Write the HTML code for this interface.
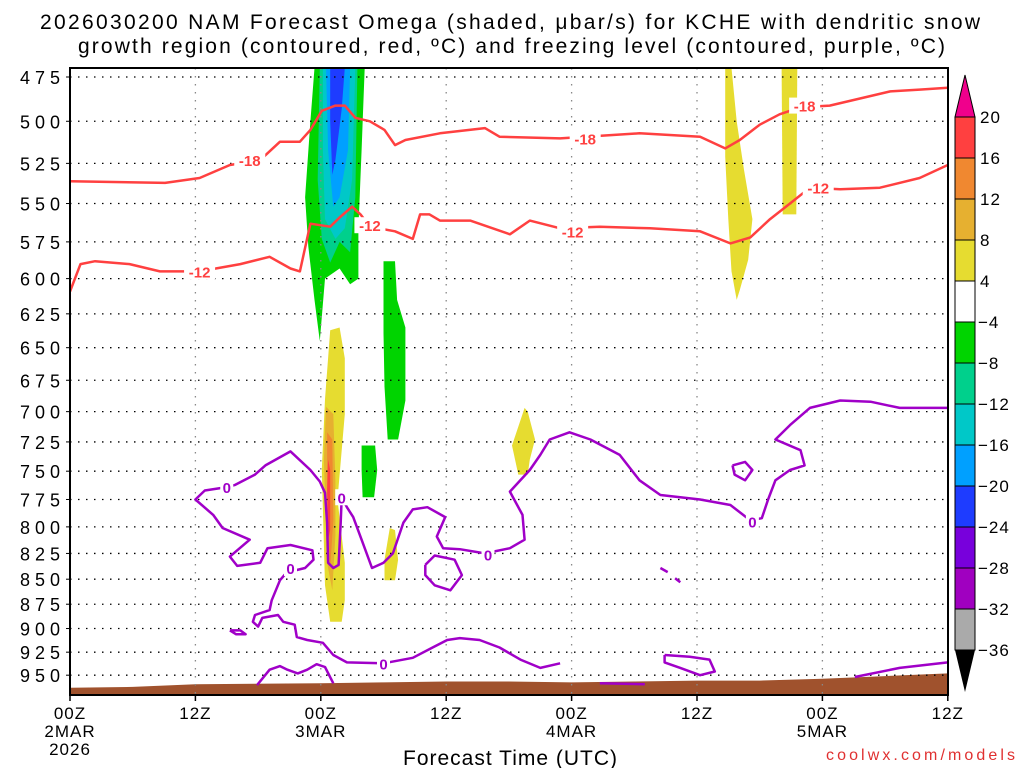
<!DOCTYPE html>
<html><head><meta charset="utf-8"><style>
html,body{margin:0;padding:0;background:#fff}
svg{display:block}
text{font-family:"Liberation Sans",sans-serif}
</style></head><body>
<svg id="chart" width="1024" height="768" viewBox="0 0 1024 768" xmlns="http://www.w3.org/2000/svg">
<text x="40" y="29" font-size="21" textLength="940" lengthAdjust="spacing">2026030200 NAM Forecast Omega (shaded, μbar/s) for KCHE with dendritic snow</text>
<text x="78" y="53" font-size="21" textLength="867" lengthAdjust="spacing">growth region (contoured, red, ºC) and freezing level (contoured, purple, ºC)</text>
<defs><clipPath id="plotclip"><rect x="70" y="68" width="878" height="627"/></clipPath></defs>
<g id="shade" clip-path="url(#plotclip)"></g>
<g id="terrain" clip-path="url(#plotclip)"></g>
<g id="grid"></g>
<g id="contours" clip-path="url(#plotclip)"></g>
<rect x="70" y="68" width="878" height="627" fill="none" stroke="#000" stroke-width="2"/>
<g id="axes"></g>
<g id="cbar"></g>
<text x="403" y="765" font-size="21" textLength="214" lengthAdjust="spacing">Forecast Time (UTC)</text>
<text x="826" y="760" font-size="16" fill="#e03030" textLength="189" lengthAdjust="spacing">coolwx.com/models</text>
</svg>
<script>
const pLevels=[475,500,525,550,575,600,625,650,675,700,725,750,775,800,825,850,875,900,925,950];
const xTickHours=[0,12,24,36,48,60,72,84];
const xTickLabels=[["00Z","2MAR","2026"],["12Z"],["00Z","3MAR"],["12Z"],["00Z","4MAR"],["12Z"],["00Z","5MAR"],["12Z"]];
const cbarLevels=[20,16,12,8,4,-4,-8,-12,-16,-20,-24,-28,-32,-36];
const cbarColors=["#ff4040","#f08830","#e6b030","#e6dc30","#ffffff","#00d400","#00d08c","#00c8c8","#00a0ff","#1e3cff","#7800dc","#a000c0","#aaaaaa"];
const shadeLevels=[-4,-8,-12,-16,-20,4,8,12,16,-4,-4,4,4,4,4,4];
const shadeHours=[
[23.4,28.2,27.9,27.6,27.6,26.8,25.8,24.4,23.9,23.4,22.8,22.5,23.0],
[23.9,27.5,27.3,26.8,25.8,24.9,24.1,23.7],
[24.2,27.3,27,26.3,25.4,24.4,24.2],
[24.5,26.8,26.6,25.8,25.2,24.7],
[24.9,26.3,26,25.4,25.1,24.9],
[24.9,25.8,26.3,26.3,25.6,26.3,26.3,26,24.9,24.4,24.1,24.4],
[24.5,25.2,25.4,25.4,25.1,24.6,24.3],
[24.6,25.1,25.2,24.9,24.6],
[24.7,24.9,24.9,24.7,24.6],
[30,31.1,31.3,32.1,32.1,31.4,30.4,30.1,30],
[27.9,29.2,29.4,29.1,28,27.9],
[30.6,31.1,31.4,31.1,30.1,30.1],
[43.5,43.8,44.5,44,43.8,42.9,42.3],
[62.7,63.3,63.8,64.5,65.3,64.9,64.1,63.8,63.3,63,62.7,62.7],
[68.1,69.6,69.5,68.2]];
const shadePress=[
[470,470,517,566,600,604,593,600,645,615,578,546,500],
[470,470,546,582,575,589,573,535],
[470,470,535,566,573,560,517],
[470,470,517,546,552,517],
[470,470,493,523,532,500],
[637,635,658,702,775,834,871,893,893,856,749,690],
[696,702,758,808,861,834,740],
[717,723,794,839,794],
[740,749,803,812,767],
[588,588,615,635,691,723,723,680,639],
[728,728,749,773,773,749],
[801,803,831,851,851,831],
[697,700,723,740,753,753,728],
[470,470,500,529,560,587,608,615,595,560,521,487],
[470,470,557,557]];
const surfHours=[0,6,10,12,24,30,36,42,48,54,60,66,72,78,84];
const surfPress=[964,963,961,960,959,958,957,957,958,957,956,956,954,951,948];
const redHours=[
[0,9.1,12.4,15.3,18.2,20.1,22,23,24.1,25.4,26.3,27.3,28.7,30.1,31.1,32.1,35.4,39.7,41.1,46.9,54.5,60.3,62.7,64.1,66,67.9,69.9,72.7,75.6,78.5,81.3,84],
[0,1,2.4,5.7,8.6,12.4,16.3,19.1,21.1,22,23,24.9,25.8,27,27.8,28.7,31.1,32.8,33.5,34.4,35.4,38.3,42.1,44,46.9,50.7,55.5,60.3,63.2,65.1,67,68.9,70.8,73.7,77.5,81.3,84]];
const redPress=[
[536,537,534,526,523,512,512,505,494,491,491,498,500,505,514,511,507,504,509,510,507,509,516,511,502,496,492,491,487,483,482,481],
[609,590,588,590,595,595,590,585,593,595,563,565,559,552,557,565,568,573,557,557,561,561,570,561,566,565,566,568,576,572,560,550,540,541,540,534,526]];
const redLabelHours=[17.2,49.3,70.3,12.4,28.7,48.1,71.6];
const redLabelPress=[523,510,491,595,564,568,540];
const redLabelText=["-18","-18","-18","-12","-12","-12","-12"];
const purpHours=[
[46.9,45.0,43.1,41.1,39.2,37.3,36.1,34.7,32.8,30.0,26.5,25.2,24.2,22.7,21.7,21.5,20.4,19.9,18.4,18.0,17.5,17.7,19.1,19.3,20.1,21.1,21.7,22.5,23.3,23.2,21.1,18.9,18.2,16.0,15.3,17.2,14.6,13.7,12.0,12.9,15.0,15.8,17.7,18.7,21.1,23.0,23.9,24.4,24.6,24.7,25.2,25.7,25.9,26.0,26.5,27.1,27.9,28.9,30.0,30.9,31.9,32.8,34.2,35.9,35.1,35.7,37.3,39.7,42.1,43.5,43.3,42.1,44.0,45.0,45.9,47.8,49.8,52.6,54.5,56.5,60.3,63.2,65.1,66.2,66.8,67.5,68.9,70.3,69.9,67.5,68.9,70.8,73.7,76.6,79.4,84],
[34.0,34.9,36.8,37.5,36.4,34.9,34.0,34.0],
[15.3,16.3,16.8,15.9,15.3],
[63.4,64.6,65.3,64.6,63.6,63.4],
[56.9,59.3,61.2,61.7,60.3,58.4,56.9,56.9],
[17.9,19.1,20.1,20.8,21.8,22.7,23.6,24.4,25.2],
[50.7,55.0],
[75.1,79.4,84],
[56.5,57.2],[57.9,58.4]];
const purpPress=[
[937,942,933,920,912,910,912,920,931,937,936,928,915,912,909,896,893,886,889,898,893,886,881,871,851,839,841,839,831,822,817,820,834,837,828,812,801,789,775,767,764,762,753,745,733,749,759,769,796,834,839,836,796,773,782,791,812,839,834,825,796,784,782,791,809,820,821,825,820,812,789,768,749,736,723,717,723,736,758,771,775,780,794,792,775,758,749,745,732,723,711,697,691,692,697,697],
[836,827,831,846,861,856,846,836],
[902,902,906,906,902],
[745,742,749,758,753,745],
[928,930,933,946,950,942,936,928],
[961,944,940,944,948,944,938,941,959],
[959,960],
[952,942,936],
[839,843],[849,853]];
const zeroLabelHours=[15,21.1,26,30,40,65.3];
const zeroLabelPress=[764,839,773,937,826,795];

const NS="http://www.w3.org/2000/svg";
const X0=70,PXH=10.45,Y0=77,PY=863,P0=475;
function xs(h){return X0+h*PXH;}
function ys(p){return Y0+PY*Math.log(p/P0);}
function mk(tag,attrs,parent){const e=document.createElementNS(NS,tag);for(const k in attrs)e.setAttribute(k,attrs[k]);parent.appendChild(e);return e;}
function colorLevel(v){if(v>=16)return cbarColors[0];if(v>=12)return cbarColors[1];if(v>=8)return cbarColors[2];if(v>=4)return cbarColors[3];if(v<=-20)return cbarColors[9];if(v<=-16)return cbarColors[8];if(v<=-12)return cbarColors[7];if(v<=-8)return cbarColors[6];return cbarColors[5];}
const shade=document.getElementById('shade');
const order=[0,9,10,1,2,3,4,5,11,12,13,14,6,7,8];
order.forEach(i=>{
  const pts=shadeHours[i].map((h,j)=>xs(h).toFixed(1)+','+ys(shadePress[i][j]).toFixed(1)).join(' ');
  const el=mk('polygon',{points:pts,fill:colorLevel(shadeLevels[i]),stroke:'none'},shade);
  
  
});
const terr=document.getElementById('terrain');
let tp=surfHours.map((h,j)=>xs(h).toFixed(1)+','+ys(surfPress[j]).toFixed(1));
tp.push(xs(84)+',700',xs(0)+',700');
const tEl=mk('polygon',{points:tp.join(' '),fill:'#a0522d'},terr);


const grid=document.getElementById('grid'),axes=document.getElementById('axes');
pLevels.forEach(p=>{
  const y=ys(p);
  const g=mk('line',{x1:70,x2:948,y1:y,y2:y,stroke:'#000','stroke-width':1.3,'stroke-dasharray':'1.5 6.5'},grid);
  
  
  mk('line',{x1:66,x2:70,y1:y,y2:y,stroke:'#000','stroke-width':1},axes);
  const lb=mk('text',{x:20,y:y+7,'font-size':18,textLength:40,lengthAdjust:'spacing'},axes);
  lb.textContent=p;
  
  
});
xTickHours.forEach((h,i)=>{
  const x=xs(h);
  if(i>0&&i<xTickHours.length-1){const g=mk('line',{x1:x,x2:x,y1:68,y2:695,stroke:'#888','stroke-width':1.3,'stroke-dasharray':'1.5 6.5'},grid);
  
  }
  mk('line',{x1:x,x2:x,y1:695,y2:701,stroke:'#000','stroke-width':1.5},axes);
  xTickLabels[i].forEach((s,k)=>{
    const lb=mk('text',{x:x,y:719+k*18,'font-size':17,'text-anchor':'middle','letter-spacing':1},axes);
    lb.textContent=s;
    
    
  });
});
const cont=document.getElementById('contours');
function drawLines(H,P,color,name){H.forEach((hs,i)=>{
  const pts=hs.map((h,j)=>xs(h).toFixed(1)+','+ys(P[i][j]).toFixed(1)).join(' ');
  const el=mk('polyline',{points:pts,fill:'none',stroke:color,'stroke-width':2.5,'stroke-linejoin':'round'},cont);
  
  
});}
drawLines(redHours,redPress,'#ff4040','dgz-contour');
drawLines(purpHours,purpPress,'#a000c8','freezing-contour');
function labels(H,P,T,color,name){H.forEach((h,i)=>{
  const x=xs(h),y=ys(P[i]);const s=T?T[i]:'0';const w=s.length*9+4;
  mk('rect',{x:x-w/2,y:y-8,width:w,height:16,fill:'#fff'},cont);
  const t=mk('text',{x:x,y:y+6,'font-size':15,'font-weight':'bold',fill:color,'text-anchor':'middle'},cont);
  t.textContent=s;
  
  
});}
labels(redLabelHours,redLabelPress,redLabelText,'#ff4040','dgz-contour-label');
labels(zeroLabelHours,zeroLabelPress,null,'#a000c8','freezing-contour-label');
const cb=document.getElementById('cbar');
const CT=117,CS=41,CX=955,CW=20;
cbarColors.forEach((c,i)=>{
  const r=mk('rect',{x:CX,y:CT+i*CS,width:CW,height:CS,fill:c,stroke:'#000','stroke-width':1},cb);
  
  
});
const n=cbarColors.length;
const tt=mk('polygon',{points:`${CX},${CT} ${CX+CW},${CT} ${CX+CW/2},75`,fill:'#f0008c',stroke:'#000'},cb);


const tb=mk('polygon',{points:`${CX},${CT+n*CS} ${CX+CW},${CT+n*CS} ${CX+CW/2},${CT+n*CS+42}`,fill:'#000'},cb);


cbarLevels.forEach((l,i)=>{
  const t=mk('text',{x:l<0?978:980,y:CT+i*CS+6,'font-size':17,'letter-spacing':1},cb);
  t.textContent=l<0?'−'+(-l):String(l);
  
  
});
</script>
</body></html>
